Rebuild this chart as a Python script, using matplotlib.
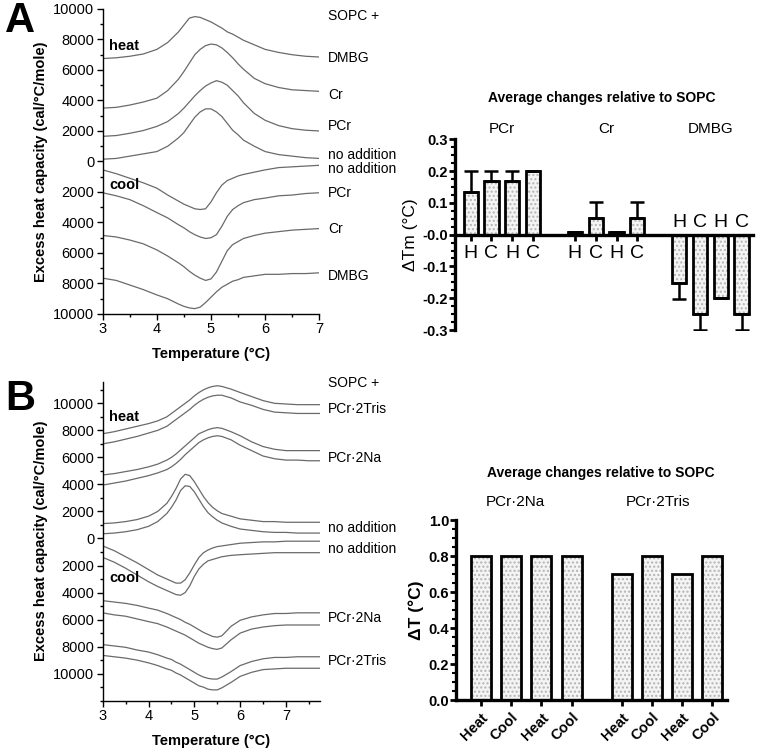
import numpy as np
import matplotlib
matplotlib.use('Agg')
import matplotlib.pyplot as plt
from matplotlib.ticker import MultipleLocator, FuncFormatter

plt.rcParams['font.family'] = ['Liberation Sans', 'DejaVu Sans']

# ---------- panel A: DSC scans (heat > 0, cool < 0) ----------
temp_a = [3, 3.25, 3.5, 3.75, 4, 4.2, 4.4, 4.5, 4.6, 4.7, 4.8, 4.9, 5.0,
          5.1, 5.2, 5.3, 5.4, 5.5, 5.6, 5.8, 6.0, 6.25, 6.5, 6.75, 7]
heat_dmbg = [6750, 6800, 6900, 7050, 7350, 7800, 8500, 8950, 9400, 9500, 9450, 9300, 9150,
             8950, 8750, 8500, 8350, 8150, 7950, 7650, 7350, 7150, 7000, 6900, 6850]
heat_cr = [3500, 3550, 3700, 3900, 4150, 4650, 5400, 5900, 6450, 7000, 7350, 7600, 7700,
           7650, 7450, 7150, 6800, 6400, 6050, 5450, 5100, 4850, 4700, 4650, 4600]
heat_pcr = [1650, 1700, 1850, 2030, 2300, 2620, 3150, 3500, 3900, 4300, 4650, 4950, 5150,
            5300, 5200, 5000, 4650, 4300, 3850, 3150, 2700, 2350, 2150, 2050, 2000]
heat_none = [150, 200, 350, 500, 650, 1000, 1550, 1900, 2400, 2900, 3250, 3450, 3450,
             3250, 2950, 2500, 2050, 1750, 1400, 1000, 650, 450, 350, 250, 200]
cool_none = [-550, -800, -1100, -1400, -1750, -2200, -2600, -2800, -2950, -3100, -3150, -3100, -2650,
             -2050, -1550, -1250, -1100, -950, -850, -700, -550, -400, -350, -300, -250]
cool_pcr = [-2050, -2250, -2500, -2900, -3350, -3700, -4150, -4350, -4600, -4800, -4950, -5050, -5000,
            -4800, -4250, -3600, -3150, -2900, -2700, -2500, -2400, -2250, -2200, -2100, -2050]
cool_cr = [-4850, -4950, -5150, -5400, -5800, -6200, -6650, -6900, -7200, -7450, -7650, -7800, -7700,
           -7250, -6550, -5850, -5450, -5250, -5050, -4850, -4700, -4600, -4500, -4450, -4400]
cool_dmbg = [-7650, -7800, -8100, -8400, -8750, -9000, -9350, -9500, -9600, -9650, -9550, -9250, -8900,
             -8550, -8250, -8050, -7850, -7750, -7600, -7500, -7400, -7400, -7350, -7350, -7300]
labels_a = ['SOPC +', 'DMBG', 'Cr', 'PCr', 'no addition', 'no addition', 'PCr', 'Cr', 'DMBG']
label_y_a = [9570, 6790, 4380, 2300, 440, -500, -2080, -4440, -7500]

# ---------- panel B: DSC scans, pairs of repeats ----------
temp_b = [3, 3.25, 3.5, 3.75, 4, 4.2, 4.4, 4.5, 4.6, 4.7, 4.8, 4.9, 5.0, 5.1,
          5.2, 5.3, 5.4, 5.5, 5.6, 5.8, 6.0, 6.25, 6.5, 6.75, 7, 7.25, 7.5, 7.75]
heat_tris_1 = [7750, 7900, 8100, 8300, 8500, 8700, 9000, 9250, 9500, 9750, 10000, 10250, 10550, 10800,
               11000, 11150, 11250, 11300, 11250, 11050, 10800, 10500, 10200, 10000, 9950, 9900, 9900, 9900]
heat_tris_2 = [7000, 7150, 7350, 7550, 7800, 8000, 8300, 8550, 8800, 9050, 9300, 9550, 9850, 10100,
               10300, 10450, 10550, 10600, 10600, 10400, 10100, 9850, 9550, 9350, 9300, 9250, 9250, 9250]
heat_na_1 = [4700, 4800, 4950, 5100, 5300, 5500, 5800, 6000, 6250, 6550, 6850, 7150, 7450, 7750,
             7900, 8050, 8150, 8200, 8150, 7900, 7600, 7150, 6800, 6600, 6500, 6500, 6500, 6500]
heat_na_2 = [3950, 4100, 4250, 4450, 4650, 4850, 5100, 5300, 5550, 5850, 6200, 6500, 6800, 7100,
             7300, 7450, 7550, 7600, 7550, 7300, 6900, 6500, 6100, 5900, 5800, 5800, 5750, 5750]
heat_none_1 = [1100, 1150, 1250, 1400, 1650, 2000, 2600, 3100, 3700, 4400, 4750, 4650, 4200, 3650,
               3100, 2650, 2300, 2050, 1850, 1650, 1450, 1350, 1250, 1250, 1200, 1200, 1200, 1200]
heat_none_2 = [350, 400, 500, 650, 900, 1250, 1850, 2300, 2850, 3550, 3900, 3850, 3450, 2900,
               2350, 1900, 1600, 1350, 1150, 900, 700, 600, 500, 450, 450, 400, 400, 400]
cool_none_1 = [-550, -900, -1350, -1800, -2300, -2700, -3000, -3150, -3300, -3300, -3050, -2550, -1950, -1400,
               -1050, -850, -700, -600, -550, -450, -350, -300, -250, -250, -200, -200, -200, -200]
cool_none_2 = [-1400, -1750, -2200, -2700, -3200, -3550, -3850, -4000, -4150, -4200, -4000, -3500, -2800, -2250,
               -1900, -1650, -1550, -1450, -1350, -1250, -1200, -1150, -1100, -1050, -1050, -1050, -1050, -1050]
cool_na_1 = [-4600, -4700, -4800, -4950, -5150, -5300, -5550, -5700, -5850, -6000, -6200, -6350, -6550, -6750,
             -6950, -7100, -7250, -7300, -7200, -6500, -6050, -5800, -5650, -5550, -5550, -5500, -5500, -5500]
cool_na_2 = [-5500, -5650, -5750, -5950, -6150, -6300, -6550, -6700, -6850, -7000, -7150, -7350, -7550, -7750,
             -7900, -8050, -8150, -8200, -8100, -7500, -7000, -6700, -6550, -6450, -6400, -6400, -6400, -6400]
cool_tris_1 = [-7850, -7950, -8050, -8250, -8400, -8600, -8850, -8950, -9150, -9300, -9500, -9700, -9900, -10100,
               -10250, -10350, -10400, -10400, -10250, -9850, -9400, -9100, -8900, -8800, -8800, -8750, -8750, -8750]
cool_tris_2 = [-8650, -8750, -8850, -9000, -9200, -9400, -9650, -9750, -9950, -10100, -10300, -10500, -10700, -10900,
               -11000, -11150, -11200, -11200, -11050, -10650, -10200, -9900, -9700, -9650, -9600, -9600, -9600, -9600]
labels_b = ['SOPC +', 'PCr\u00b72Tris', 'PCr\u00b72Na', 'no addition', 'no addition', 'PCr\u00b72Na', 'PCr\u00b72Tris']
label_y_b = [11480, 9560, 5940, 770, -780, -5880, -9080]

# ---------- bar charts ----------
bar_groups_a = ['PCr', 'Cr', 'DMBG']
bar_letters_a = ['H', 'C', 'H', 'C'] * 3
dtm = [0.135, 0.17, 0.17, 0.2, 0.008, 0.052, 0.008, 0.052, -0.152, -0.25, -0.2, -0.25]
dtm_err_up = [0.065, 0.03, 0.03, 0, 0, 0.05, 0, 0.05, 0, 0, 0, 0]
dtm_err_dn = [0, 0, 0, 0, 0, 0, 0, 0, 0.05, 0.05, 0, 0.05]
pos_a = [0, 1, 2, 3, 5, 6, 7, 8, 10, 11, 12, 13]

bar_groups_b = ['PCr\u00b72Na', 'PCr\u00b72Tris']
bar_labels_b = ['Heat', 'Cool', 'Heat', 'Cool'] * 2
dt = [0.8, 0.8, 0.8, 0.8, 0.7, 0.8, 0.7, 0.8]
pos_b = [0, 1, 2, 3, 4.65, 5.65, 6.65, 7.65]

LINE = '#6a6a6a'
fig = plt.figure(figsize=(7.59, 7.49), dpi=100)


def dsc_axes(rect, xlim, ylim):
    ax = fig.add_axes(rect)
    ax.set_xlim(*xlim)
    ax.set_ylim(*ylim)
    for s in ['top', 'right']:
        ax.spines[s].set_visible(False)
    for s in ['left', 'bottom']:
        ax.spines[s].set_linewidth(1.0)
    ax.set_yticks(np.arange(-10000, 10001, 2000))
    ax.yaxis.set_minor_locator(MultipleLocator(1000))
    ax.xaxis.set_major_locator(MultipleLocator(1))
    ax.xaxis.set_minor_locator(MultipleLocator(0.5))
    ax.yaxis.set_major_formatter(FuncFormatter(lambda v, p: '%d' % abs(round(v))))
    ax.tick_params(which='major', length=4, width=1, labelsize=10.5, pad=2)
    ax.tick_params(which='minor', length=2.5, width=1)
    ax.set_xlabel('Temperature (\u00b0C)', fontsize=10.5, fontweight='bold', labelpad=8)
    ax.set_ylabel('Excess heat capacity (cal/\u00b0C/mole)', fontsize=10.5, fontweight='bold', labelpad=4)
    return ax


# panel A curves
axA = dsc_axes([0.1353, 0.5808, 0.2854, 0.4072], (3, 7), (-10000, 10000))
for curve in [heat_dmbg, heat_cr, heat_pcr, heat_none, cool_none, cool_pcr, cool_cr, cool_dmbg]:
    axA.plot(temp_a, curve, color=LINE, lw=0.9)
for lab, yy in zip(labels_a, label_y_a):
    axA.text(7.16, yy, lab, fontsize=10, va='center', ha='left', clip_on=False)
axA.text(3.12, 7600, 'heat', fontsize=10.5, fontweight='bold', va='center')
axA.text(3.12, -1530, 'cool', fontsize=10.5, fontweight='bold', va='center')

# panel B curves
axB = dsc_axes([0.1353, 0.0645, 0.2868, 0.4259], (3, 7.75), (-12000, 11600))
for curve in [heat_tris_1, heat_tris_2, heat_na_1, heat_na_2, heat_none_1, heat_none_2,
              cool_none_1, cool_none_2, cool_na_1, cool_na_2, cool_tris_1, cool_tris_2]:
    axB.plot(temp_b, curve, color=LINE, lw=0.9)
for lab, yy in zip(labels_b, label_y_b):
    axB.text(7.92, yy, lab, fontsize=10, va='center', ha='left', clip_on=False)
axB.text(3.14, 9010, 'heat', fontsize=10.5, fontweight='bold', va='center')
axB.text(3.14, -2925, 'cool', fontsize=10.5, fontweight='bold', va='center')

fig.text(0.007, 0.972, 'A', fontsize=30, fontweight='bold', va='center')
fig.text(0.007, 0.467, 'B', fontsize=30, fontweight='bold', va='center')


def draw_bars(ax, pos, vals, width):
    ax.bar(pos, vals, width=width, color='#f4f4f4', edgecolor='#b4b4b4', hatch='....',
           linewidth=0, zorder=2)
    ax.bar(pos, vals, width=width, fill=False, edgecolor='black', linewidth=2.0, zorder=3)


def bar_axes_style(ax):
    for s in ['top', 'right']:
        ax.spines[s].set_visible(False)
    ax.spines['left'].set_linewidth(2.4)
    ax.spines['bottom'].set_linewidth(2.4)
    ax.tick_params(axis='y', which='major', length=4, width=2, labelsize=10.5, pad=1)
    ax.tick_params(axis='y', which='minor', length=3, width=1.5)
    ax.tick_params(axis='x', length=4, width=2)
    for t in ax.get_yticklabels():
        t.set_fontweight('bold')


# bar chart A
axC = fig.add_axes([0.5995, 0.5594, 0.3926, 0.2546])
draw_bars(axC, pos_a, dtm, 0.68)
axC.errorbar(pos_a, dtm, yerr=[dtm_err_dn, dtm_err_up], fmt='none', ecolor='black',
             elinewidth=1.8, capsize=5, capthick=1.8, zorder=4)
axC.set_xlim(-0.75, 13.55)
axC.set_ylim(-0.3, 0.3)
axC.spines['bottom'].set_position(('data', 0))
axC.set_yticks([-0.3, -0.2, -0.1, 0.0, 0.1, 0.2, 0.3])
axC.set_yticklabels(['-0.3', '-0.2', '-0.1', '-0.0', '0.1', '0.2', '0.3'])
axC.yaxis.set_minor_locator(MultipleLocator(0.025))
axC.set_xticks(pos_a)
axC.set_xticklabels([])
bar_axes_style(axC)
axC.set_ylabel('\u0394Tm (\u00b0C)', fontsize=12.5, labelpad=3)
for p, v, let in zip(pos_a, dtm, bar_letters_a):
    axC.text(p, -0.06 if v > 0 else 0.037, let, fontsize=14, ha='center', va='center')
for i, g in enumerate(bar_groups_a):
    axC.text(np.mean(pos_a[4 * i:4 * i + 4]), 0.332, g, fontsize=11, ha='center', va='center',
             clip_on=False)
axC.text(6.3, 0.43, 'Average changes relative to SOPC', fontsize=10, fontweight='bold',
         ha='center', va='center', clip_on=False)

# bar chart B
axD = fig.add_axes([0.6008, 0.0654, 0.357, 0.2403])
draw_bars(axD, pos_b, dt, 0.66)
axD.set_xlim(-0.815, 8.13)
axD.set_ylim(0, 1.0)
axD.set_yticks([0, 0.2, 0.4, 0.6, 0.8, 1.0])
axD.set_yticklabels(['0.0', '0.2', '0.4', '0.6', '0.8', '1.0'])
axD.yaxis.set_minor_locator(MultipleLocator(0.05))
axD.set_xticks(pos_b)
axD.set_xticklabels(bar_labels_b, rotation=45, ha='right', rotation_mode='anchor',
                    fontsize=10.5, fontweight='bold')
bar_axes_style(axD)
axD.set_ylabel('\u0394T (\u00b0C)', fontsize=12.5, fontweight='bold', labelpad=3)
axD.text(np.mean(pos_b[:4]) - 0.35, 1.1, bar_groups_b[0], fontsize=11, ha='center', va='center',
         clip_on=False)
axD.text(np.mean(pos_b[4:]) - 0.3, 1.1, bar_groups_b[1], fontsize=11, ha='center', va='center',
         clip_on=False)
axD.text(3.95, 1.26, 'Average changes relative to SOPC', fontsize=10, fontweight='bold',
         ha='center', va='center', clip_on=False)

fig.savefig('out.png', dpi=100)
